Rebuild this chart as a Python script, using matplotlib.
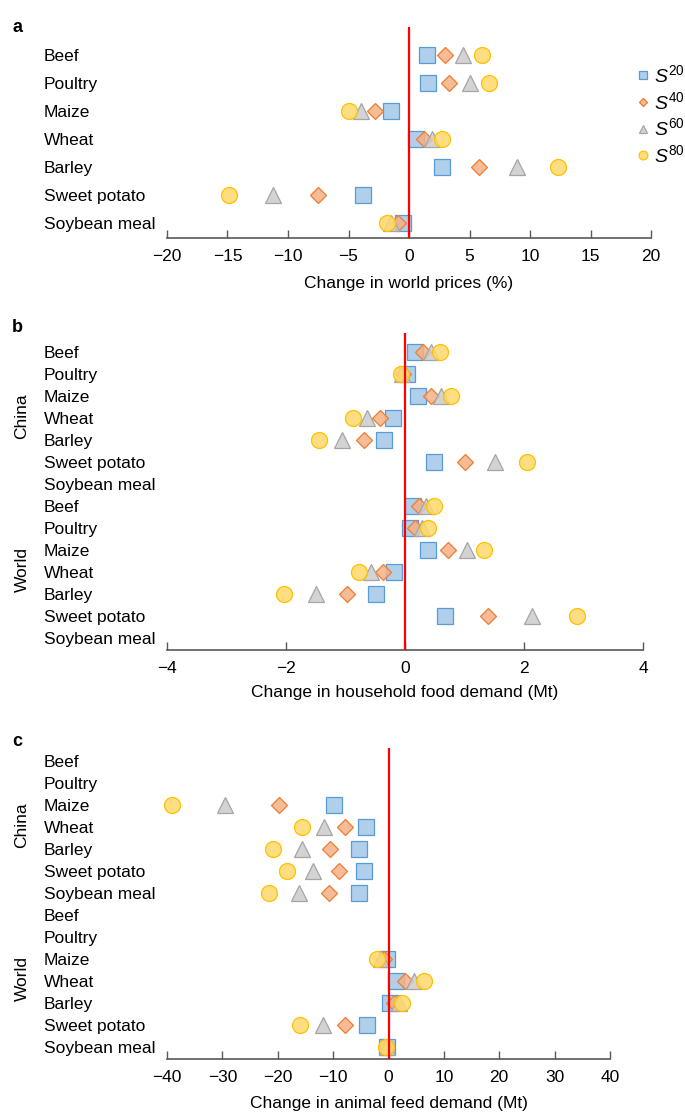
import numpy as np
import matplotlib
matplotlib.use('Agg')
import matplotlib.pyplot as plt
import matplotlib.transforms as mtransforms
from matplotlib.lines import Line2D

plt.rcParams['font.family'] = ['Liberation Sans', 'DejaVu Sans']
plt.rcParams['mathtext.fontset'] = 'custom'
plt.rcParams['mathtext.rm'] = 'Liberation Sans'
plt.rcParams['mathtext.it'] = 'Liberation Sans:italic'

nan = np.nan

# panel a: change in world prices (%)
cats_a = ['Beef', 'Poultry', 'Maize', 'Wheat', 'Barley', 'Sweet potato', 'Soybean meal']
a_s20 = [1.5, 1.6, -1.45, 0.6, 2.75, -3.8, -0.5]
a_s40 = [3.0, 3.3, -2.8, 1.25, 5.75, -7.55, -0.9]
a_s60 = [4.5, 5.0, -4.0, 1.9, 8.9, -11.2, -1.45]
a_s80 = [6.0, 6.65, -5.0, 2.7, 12.3, -14.9, -1.85]

# panels b and c: China rows then World rows
cats_bc = cats_a + cats_a
regions = ['China', 'World']

b_s20 = [0.16, 0.03, 0.22, -0.21, -0.35, 0.49, nan, 0.13, 0.08, 0.38, -0.18, -0.49, 0.67, nan]
b_s40 = [0.30, -0.04, 0.43, -0.42, -0.69, 1.0, nan, 0.24, 0.17, 0.72, -0.37, -0.97, 1.39, nan]
b_s60 = [0.44, -0.05, 0.61, -0.64, -1.06, 1.52, nan, 0.35, 0.28, 1.04, -0.57, -1.49, 2.13, nan]
b_s80 = [0.58, -0.07, 0.78, -0.88, -1.44, 2.05, nan, 0.48, 0.39, 1.33, -0.77, -2.03, 2.89, nan]

c_s20 = [nan, nan, -9.9, -4.0, -5.4, -4.45, -5.4, nan, nan, -0.3, 1.4, 0.2, -3.9, -0.2]
c_s40 = [nan, nan, -19.8, -7.8, -10.6, -8.9, -10.7, nan, nan, -0.9, 3.05, 1.0, -7.8, -0.3]
c_s60 = [nan, nan, -29.5, -11.7, -15.7, -13.6, -16.1, nan, nan, -1.4, 4.6, 1.9, -11.9, -0.35]
c_s80 = [nan, nan, -39.1, -15.6, -20.8, -18.4, -21.6, nan, nan, -2.1, 6.4, 2.45, -15.9, -0.4]

scen_labels = [r'$S^{20}$', r'$S^{40}$', r'$S^{60}$', r'$S^{80}$']
# marker, size, face, edge
styles = [('s', 11.0, (0.64, 0.78, 0.91, 0.85), '#5b9bd5'),
          ('D', 7.8, (0.96, 0.69, 0.52, 0.85), '#ed7d31'),
          ('^', 11.5, (0.80, 0.80, 0.80, 0.85), '#a5a5a5'),
          ('o', 11.5, (1.0, 0.85, 0.42, 0.85), '#ffc000')]

W, H = 685, 1113
fig = plt.figure(figsize=(W / 100, H / 100), dpi=100)


def box(l, t, r, b):
    return [l / W, 1 - b / H, (r - l) / W, (b - t) / H]


def panel(rect, cats, series, xlim, xticks, xlabel, ylim, letter, letter_y, labelpad):
    ax = fig.add_axes(rect)
    y = np.arange(len(cats))
    for vals, (m, ms, fc, ec) in zip(series, styles):
        ax.plot(vals, y, ls='none', marker=m, ms=ms, mfc=fc, mec=ec, mew=0.9,
                zorder=3, clip_on=False)
    ax.axvline(0, color='#ff0000', lw=1.6, zorder=4)
    ax.set_xlim(xlim)
    ax.set_ylim(ylim)
    ax.set_xticks(xticks)
    ax.set_yticks(y)
    ax.set_yticklabels(cats, fontsize=12.5)
    for lab in ax.get_yticklabels():
        lab.set_horizontalalignment('left')
    ax.tick_params(axis='y', length=0, pad=88.5)
    ax.tick_params(axis='x', direction='in', length=6, width=1, color='#595959',
                   labelsize=12.5, pad=8)
    for s in ['top', 'right', 'left']:
        ax.spines[s].set_visible(False)
    ax.spines['bottom'].set_color('#595959')
    ax.spines['bottom'].set_linewidth(1.2)
    ax.set_xlabel(xlabel, fontsize=12.5, labelpad=labelpad)
    ax.patch.set_alpha(0)
    fig.text(12 / W, 1 - letter_y / H, letter, fontsize=13, fontweight='bold',
             va='center', ha='left')
    return ax


ax_a = panel(box(167, 27, 651, 238), cats_a, [a_s20, a_s40, a_s60, a_s80],
             (-20, 20), range(-20, 21, 5), 'Change in world prices (%)',
             (6.55, -1), 'a', 27, 8.3)

ax_b = panel(box(167, 333, 643, 650), cats_bc, [b_s20, b_s40, b_s60, b_s80],
             (-4, 4), range(-4, 5, 2), 'Change in household food demand (Mt)',
             (13.55, -0.86), 'b', 327, 6.5)

ax_c = panel(box(167, 748, 610, 1059), cats_bc, [c_s20, c_s40, c_s60, c_s80],
             (-40, 40), range(-40, 41, 10), 'Change in animal feed demand (Mt)',
             (13.55, -0.6), 'c', 742, 7.5)

for ax in [ax_b, ax_c]:
    tr = mtransforms.blended_transform_factory(fig.transFigure, ax.transData)
    for i, reg in enumerate(regions):
        ax.text(22 / W, 3 + 7 * i - 0.1, reg, transform=tr, rotation=90,
                ha='center', va='center', fontsize=12.5)

handles = [Line2D([], [], ls='none', marker=m, ms=ms * 0.55, mfc=fc, mec=ec, mew=0.9)
           for (m, ms, fc, ec) in styles]
fig.legend(handles, scen_labels, loc='upper left', bbox_to_anchor=(637 / W, 1 - 64 / H),
           frameon=False, fontsize=14, handlelength=0.6, handletextpad=0.3,
           labelspacing=0.25, borderaxespad=0, borderpad=0)

fig.savefig('out.png', dpi=100)
